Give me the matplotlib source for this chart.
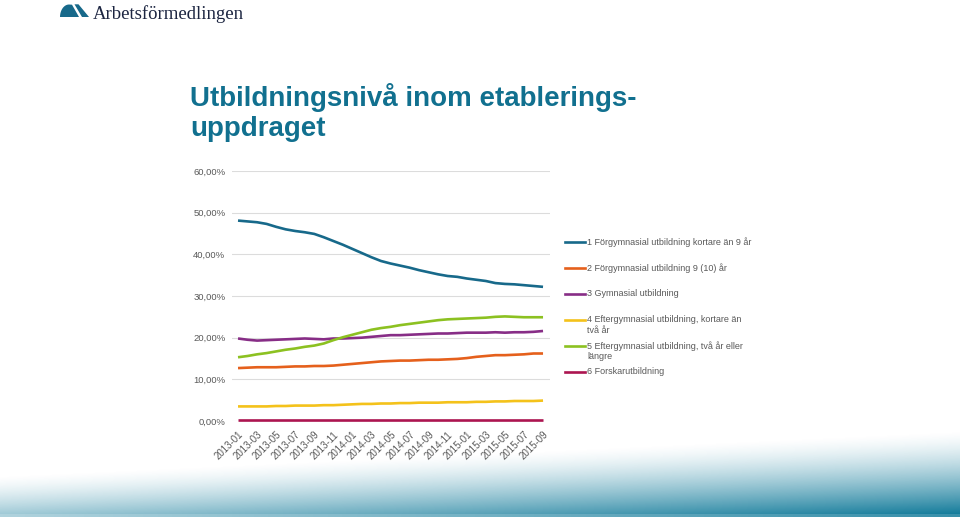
import numpy as np
from matplotlib import pyplot as plt
from matplotlib.lines import Line2D
from matplotlib.patches import Polygon
from matplotlib.ticker import FuncFormatter

plt.rcParams['font.family'] = ['Liberation Sans', 'DejaVu Sans']

W, H = 960, 517

# months 2013-01 .. 2015-09
months = [f"{y}-{m:02d}" for y in (2013, 2014, 2015) for m in range(1, 13)][:33]
tick_labels = months[::2]

labels = [
    "1 Förgymnasial utbildning kortare än 9 år",
    "2 Förgymnasial utbildning 9 (10) år",
    "3 Gymnasial utbildning",
    "4 Eftergymnasial utbildning, kortare än\ntvå år",
    "5 Eftergymnasial utbildning, två år eller\nlängre",
    "6 Forskarutbildning",
]
colors = ["#17698a", "#e5601c", "#872d86", "#f4c21a", "#8cc121", "#ac1550"]

forgym_kort = [48.1, 47.9, 47.7, 47.3, 46.6, 46.0, 45.6, 45.3, 44.9, 44.1, 43.2,
               42.3, 41.3, 40.3, 39.3, 38.4, 37.8, 37.3, 36.8, 36.2, 35.7, 35.2,
               34.8, 34.6, 34.2, 33.9, 33.6, 33.1, 32.9, 32.8, 32.6, 32.4, 32.2]
forgym_9 = [12.7, 12.8, 12.9, 12.9, 12.9, 13.0, 13.1, 13.1, 13.2, 13.2, 13.3,
            13.5, 13.7, 13.9, 14.1, 14.3, 14.4, 14.5, 14.5, 14.6, 14.7, 14.7,
            14.8, 14.9, 15.1, 15.4, 15.6, 15.8, 15.8, 15.9, 16.0, 16.2, 16.2]
gymnasial = [19.8, 19.5, 19.3, 19.4, 19.5, 19.6, 19.7, 19.8, 19.7, 19.6, 19.8,
             19.8, 19.9, 20.0, 20.2, 20.4, 20.6, 20.6, 20.7, 20.8, 20.9, 21.0,
             21.0, 21.1, 21.2, 21.2, 21.2, 21.3, 21.2, 21.3, 21.3, 21.4, 21.6]
eftergym_kort = [3.5, 3.5, 3.5, 3.5, 3.6, 3.6, 3.7, 3.7, 3.7, 3.8, 3.8, 3.9,
                 4.0, 4.1, 4.1, 4.2, 4.2, 4.3, 4.3, 4.4, 4.4, 4.4, 4.5, 4.5,
                 4.5, 4.6, 4.6, 4.7, 4.7, 4.8, 4.8, 4.8, 4.9]
eftergym_lang = [15.3, 15.6, 16.0, 16.3, 16.7, 17.1, 17.4, 17.8, 18.1, 18.6, 19.4,
                 20.1, 20.7, 21.3, 21.9, 22.3, 22.6, 23.0, 23.3, 23.6, 23.9, 24.2,
                 24.4, 24.5, 24.6, 24.7, 24.8, 25.0, 25.1, 25.0, 24.9, 24.9, 24.9]
forskar = [0.3] * 33

series = [forgym_kort, forgym_9, gymnasial, eftergym_kort, eftergym_lang, forskar]

fig = plt.figure(figsize=(W / 100, H / 100), dpi=100)


def fx(px):
    return px / W


def fy(py):
    return 1 - py / H


# teal gradient band at the bottom
bg = fig.add_axes([0, 0, 1, 1], zorder=-10)
bg.axis("off")
xx, yy = np.meshgrid(np.arange(W), np.arange(H))
y0 = 475 - 45 * xx / W
t = np.clip((yy - y0) / (513 - y0), 0, 1) ** 1.4
alpha = t * (0.4 + 0.6 * xx / W)
alpha[yy > 513] *= 0.85
img = np.zeros((H, W, 4))
img[..., 0] = 20 / 255
img[..., 1] = 124 / 255
img[..., 2] = 155 / 255
img[..., 3] = alpha
bg.imshow(img, extent=(0, W, H, 0), aspect="auto")
bg.set_xlim(0, W)
bg.set_ylim(H, 0)

# logo
arc = np.linspace(np.pi, np.pi / 2, 12)
logo_l = [(69 + 9 * np.cos(a), 17 - 12.5 * np.sin(a)) for a in arc]
logo_l += [(72, 4.7), (79, 17)]
logo_r = [(74.5, 4.3), (78.5, 4.3), (89, 17), (82, 17)]
for shape in (logo_l, logo_r):
    fig.add_artist(Polygon([(fx(a), fy(b)) for a, b in shape], closed=True,
                           transform=fig.transFigure, color="#17698a", lw=0))
fig.text(fx(93), fy(19), "Arbetsförmedlingen", family="Liberation Serif",
         fontsize=13.5, color="#1c2541", va="baseline", ha="left")

fig.text(fx(190), fy(136), "Utbildningsnivå inom etablerings-\nuppdraget",
         fontsize=20, fontweight="bold", color="#11708f", va="baseline",
         ha="left", linespacing=1.2)

ax = fig.add_axes([fx(232.3), fy(421), fx(317.4), 250 / H])
x = np.arange(len(months))
for vals, c in zip(series, colors):
    ax.plot(x, vals, color=c, lw=1.9, solid_capstyle="butt", clip_on=False)

ax.set_xlim(-0.6, 32.7)
ax.set_ylim(0, 60)
ax.set_yticks(np.arange(0, 61, 10))
ax.yaxis.set_major_formatter(FuncFormatter(lambda v, p: f"{v:.2f}%".replace(".", ",")))
ax.set_xticks(x[::2])
ax.set_xticklabels(tick_labels, rotation=45, ha="right", va="top",
                   rotation_mode="anchor")
ax.tick_params(length=0, labelsize=6.8, colors="#595959")
ax.tick_params(axis="x", labelsize=7)
ax.tick_params(axis="y", pad=5)
ax.tick_params(axis="x", pad=6)
ax.grid(axis="y", color="#dcdcdc", lw=0.8)
ax.set_axisbelow(True)
for s in ax.spines.values():
    s.set_visible(False)
ax.patch.set_alpha(0)

# legend drawn by hand so the wrapped labels line up like the original
leg_y = [242, 268, 294, 320, 346, 372]
for lab, c, ly in zip(labels, colors, leg_y):
    fig.add_artist(Line2D([fx(565), fx(585)], [fy(ly), fy(ly)], color=c, lw=1.9,
                          transform=fig.transFigure))
    fig.text(fx(587), fy(ly - 5), lab, fontsize=6.5, color="#595959",
             va="top", ha="left", linespacing=1.25)

fig.savefig("out.png", dpi=100)
